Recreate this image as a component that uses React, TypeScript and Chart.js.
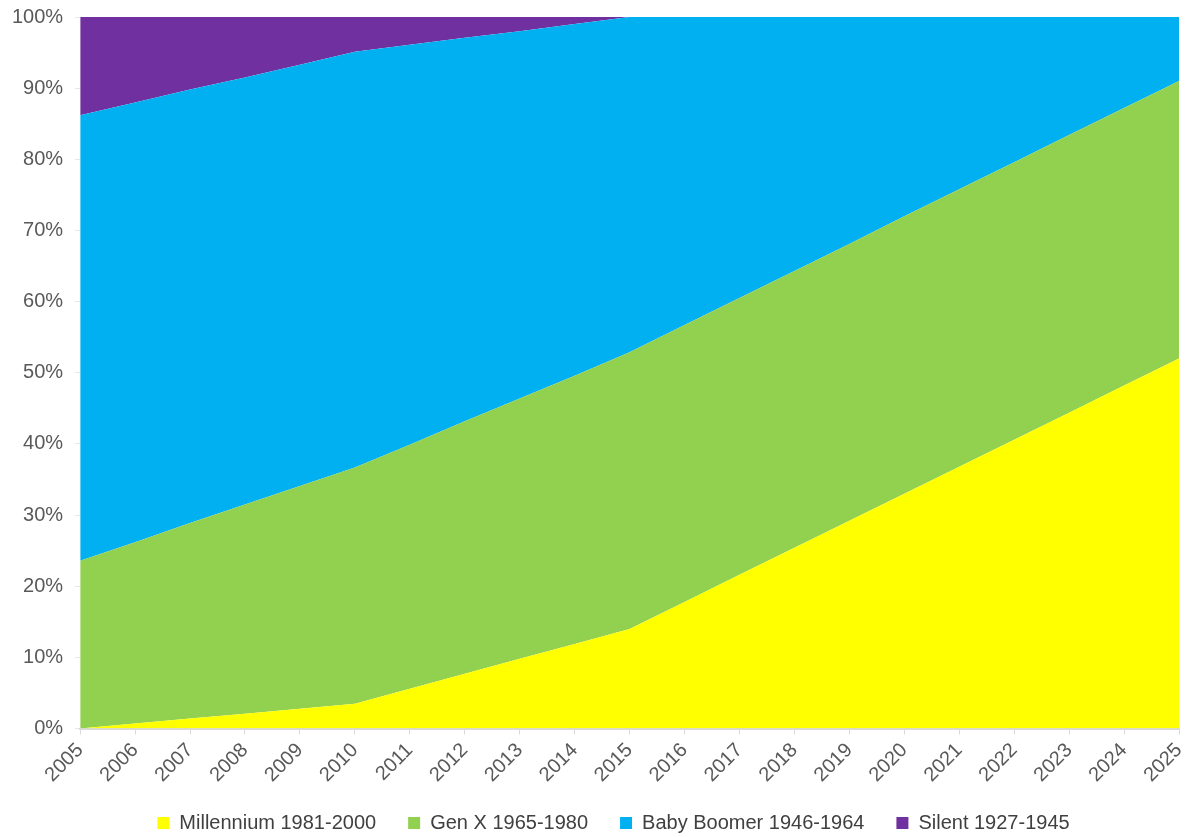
import React, { useEffect, useRef } from "react";
import { Chart, registerables } from "chart.js";

Chart.register(...registerables);

const years = [
  "2005", "2006", "2007", "2008", "2009", "2010", "2011", "2012", "2013", "2014", "2015",
  "2016", "2017", "2018", "2019", "2020", "2021", "2022", "2023", "2024", "2025",
];

const millennium = [0, 0.7, 1.4, 2.1, 2.8, 3.5, 5.6, 7.7, 9.8, 11.9, 14.0, 17.8, 21.6, 25.4, 29.2, 33.0, 36.8, 40.6, 44.4, 48.2, 52.0];
const genX = [23.6, 25.5, 27.5, 29.4, 31.3, 33.2, 34.3, 35.5, 36.6, 37.7, 38.9, 38.9, 38.9, 38.9, 38.9, 39.0, 39.0, 39.0, 39.0, 39.0, 39.0];
const babyBoomer = [62.6, 61.8, 60.9, 60.0, 59.2, 58.4, 56.2, 53.9, 51.6, 49.4, 47.1, 43.3, 39.5, 35.7, 31.9, 28.0, 24.2, 20.4, 16.6, 12.8, 9.0];
const silent = [13.8, 12.0, 10.2, 8.5, 6.7, 4.9, 3.9, 2.9, 2.0, 1.0, 0, 0, 0, 0, 0, 0, 0, 0, 0, 0, 0];

const seriesNames = ["Millennium 1981-2000", "Gen X 1965-1980", "Baby Boomer 1946-1964", "Silent 1927-1945"];
const seriesColors = ["#FFFF00", "#92D050", "#00B0F0", "#7030A0"];
const yTicks = [0, 10, 20, 30, 40, 50, 60, 70, 80, 90, 100];

const FONT = "'Liberation Sans', Arial, Helvetica, sans-serif";

const legendShift = {
  id: "legendShift",
  afterLayout(chart: any) {
    const l = chart.legend;
    if (!l) return;
    const dx = 24;
    const dy = -10;
    l.left += dx;
    l.right += dx;
    l.top += dy;
    l.bottom += dy;
  },
};

export default function App() {
  const ref = useRef<HTMLCanvasElement | null>(null);
  useEffect(() => {
    if (!ref.current) return;
    const values = [millennium, genX, babyBoomer, silent];
    const chart = new Chart(ref.current, {
      type: "line",
      data: {
        labels: years,
        datasets: values.map((v, i) => ({
          label: seriesNames[i],
          data: v,
          backgroundColor: seriesColors[i],
          borderColor: seriesColors[i],
          borderWidth: 0,
          pointRadius: 0,
          tension: 0,
          fill: i === 0 ? "origin" : "-1",
        })),
      },
      plugins: [legendShift],
      options: {
        animation: false,
        responsive: true,
        maintainAspectRatio: false,
        layout: { padding: { left: 0, right: 7, top: 17, bottom: -16 } },
        plugins: {
          tooltip: { enabled: false },
          legend: {
            position: "bottom",
            labels: {
              boxWidth: 12,
              boxHeight: 12,
              padding: 32,
              color: "#404040",
              font: { family: FONT, size: 20 },
            },
          },
        },
        scales: {
          x: {
            offset: false,
            afterFit: (axis: any) => {
              axis.paddingLeft = 0;
              axis.paddingRight = 0;
            },
            grid: { drawOnChartArea: false, drawTicks: true, tickLength: 6, color: "#d9d9d9" },
            border: { display: true, color: "#d9d9d9", width: 2 },
            ticks: {
              autoSkip: false,
              maxRotation: 45,
              minRotation: 45,
              padding: 4,
              color: "#595959",
              font: { family: FONT, size: 20 },
            },
          },
          y: {
            stacked: true,
            min: 0,
            max: 100,
            afterBuildTicks: (axis: any) => {
              axis.ticks = yTicks.map((v) => ({ value: v }));
            },
            afterFit: (axis: any) => {
              axis.paddingTop = 0;
              axis.paddingBottom = 0;
            },
            grid: { drawOnChartArea: false, drawTicks: true, tickLength: 5, color: "#e6e6e6" },
            border: { display: false },
            ticks: {
              padding: 12,
              color: "#595959",
              font: { family: FONT, size: 20 },
              callback: (v: any) => v + "%",
            },
          },
        },
      },
    });
    return () => chart.destroy();
  }, []);
  return (
    <div style={{ position: "absolute", left: 0, top: 0, width: 1186, height: 837 }}>
      <canvas ref={ref} />
    </div>
  );
}
